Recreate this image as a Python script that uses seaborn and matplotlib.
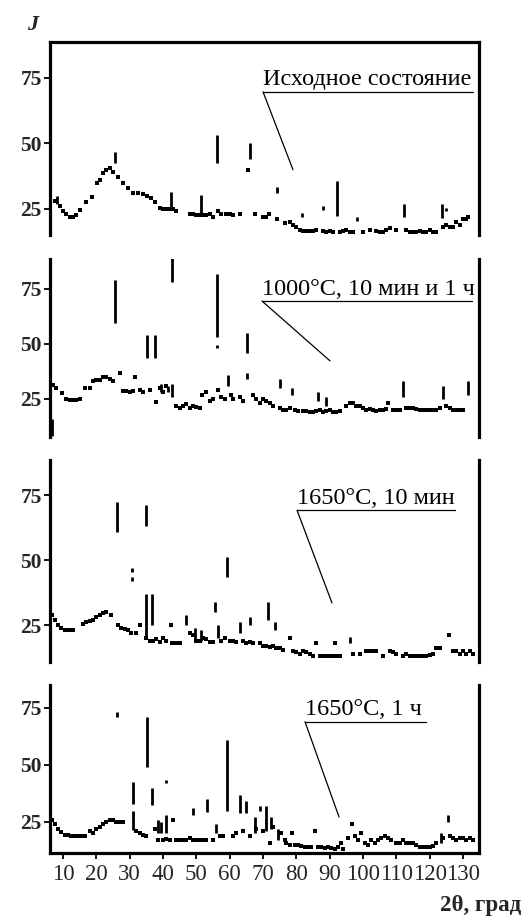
import matplotlib
matplotlib.use("Agg")
import matplotlib.pyplot as plt
import seaborn as sns
import pandas as pd

# ---------------- data ----------------
x_ticks = [10, 20, 30, 40, 50, 60, 70, 80, 90, 100, 110, 120, 130]
y_ticks = [25, 50, 75]
labels = ["Исходное состояние", "1000°C, 10 мин и 1 ч", "1650°C, 10 мин", "1650°C, 1 ч"]

# background points (2theta, J) and peak segments (2theta, J_low, J_high)
p1_bg = [(7.5, 28), (9, 26), (10, 24), (11, 23), (12, 22), (13, 22), (14, 22.5), (15, 24.5), (17, 27.5),
         (18.7, 29.6), (20.2, 35), (21, 36), (22, 38.7), (23, 40), (24, 40.6), (25, 39), (26.5, 37), (28, 35),
         (29.5, 33), (31, 31), (32.5, 31), (34, 30.5), (35.2, 30), (36.5, 29), (37.6, 27.7), (39, 25.5),
         (40, 25), (41, 25), (42, 25), (43, 25), (44, 24), (48, 23), (49, 23), (50, 22.6), (51, 22.5),
         (52, 22.8), (53, 22.6), (54, 23), (55, 22), (56.5, 24), (57.5, 23), (59, 23), (60, 23), (61, 22.5),
         (63, 23), (65.5, 40), (67.7, 23), (70, 22), (71, 22), (71.9, 23), (74.3, 21), (76.7, 19.5), (78, 20),
         (79, 19), (80, 18), (81, 17), (82, 16.5), (83, 16.5), (84, 16.5), (85, 16.5), (86, 17), (88, 16.5),
         (89, 16), (90, 16.5), (91, 16), (93, 16), (94, 16.5), (95, 17), (96, 16), (97, 16), (100, 16),
         (102, 17), (104, 16.5), (105, 16), (106, 16), (107, 17), (108, 17.5), (110, 17), (113, 17), (114, 16),
         (115, 16), (116, 16), (117, 16.5), (118, 16), (119, 16), (120, 17), (121, 16), (122, 16), (124, 18),
         (125, 19), (126, 18), (127, 18), (128, 20), (129, 19), (130, 21), (131, 21), (131.6, 22)]
p1_pk = [(8.2, 27, 30), (25.6, 42.6, 46.7), (42.4, 25, 31.5), (51.4, 23, 30.3), (56.3, 42.6, 53.2),
         (66.0, 44, 50), (74.3, 31, 33.5), (81.8, 22, 23.5), (88, 24.5, 26), (92.3, 22.3, 35.6),
         (98.3, 20.5, 22), (112.4, 22, 27), (123.8, 21.5, 27), (125, 24, 25.5)]

p2_bg = [(7, 31.4), (8, 30), (9.7, 27.7), (11, 25), (12, 24.5), (13, 24.5), (14, 24.5), (15, 25), (16.6, 30),
         (18, 30), (19, 33), (20, 33.6), (21, 33.6), (22, 35), (23, 35), (24, 34), (25, 33), (27, 37),
         (28, 28.5), (29, 28.5), (30, 28), (31, 28.5), (31.5, 35), (33, 29), (34, 28), (36, 29), (38, 23.6),
         (39, 30), (40, 28), (41, 31), (44, 22), (45, 21), (46, 22), (47, 22.5), (48, 21), (49, 22),
         (50, 21.5), (51, 21), (51.7, 27), (53, 28), (54, 24), (55, 25), (56.5, 29), (57.5, 26), (58.5, 25),
         (60.5, 27), (61, 25), (63, 26), (64, 24), (67, 27), (68, 25), (69, 23), (70, 25), (71, 24), (72, 23),
         (73, 22), (75, 21), (76, 20), (77, 20), (78, 21), (79.5, 20), (80.5, 19.5), (82, 19.5), (83, 19.5),
         (84, 19), (85, 19), (86, 19.5), (87, 20), (88, 19), (89, 19.5), (90, 20), (91, 19), (92, 19),
         (93, 19.5), (95, 22), (96, 23), (97, 23), (98, 22), (99, 22), (100, 21), (101, 20), (102, 20.5),
         (103, 20), (104, 19.5), (105, 20), (106, 20), (107, 20.5), (107.6, 23), (109, 20), (110, 20),
         (111, 20), (113, 21), (114, 21), (115, 21), (116, 20.5), (117, 20), (118, 20), (119, 20), (120, 20),
         (121, 20), (122, 20), (123, 21), (125, 22), (126, 21), (127, 20), (128, 20), (129, 20), (130, 20)]
p2_pk = [(6.6, 8, 16), (25.6, 59.5, 79), (35.2, 43.6, 54), (37.6, 43.6, 54), (39.5, 28, 32), (41.5, 28, 31),
         (42.7, 26, 32), (42.7, 78, 95), (56.2, 53, 82), (56.2, 48, 49.5), (59.6, 31, 36), (65.2, 46, 55),
         (65.2, 34, 37), (75, 30, 34), (78.8, 27, 30), (86.6, 24, 28), (88.8, 22, 26), (112, 26, 33),
         (124, 25, 31), (131.6, 27, 33)]

p3_bg = [(6.7, 29), (7.5, 27), (8.5, 25), (9.5, 24), (10.5, 23), (11.5, 23), (12.5, 23), (13, 23), (16, 25.5),
         (17, 26), (18, 26.5), (19, 27), (20, 28), (21, 29), (22, 29.5), (23, 30), (24.5, 29), (26.5, 25),
         (27.5, 24), (28.5, 23.5), (29.5, 23), (30.5, 22), (32, 22), (33, 25), (35, 20), (36, 19), (37, 19),
         (38, 19.5), (39, 18.5), (40, 20), (41, 19), (42.5, 25), (42.7, 18), (43.5, 18), (44.5, 18), (45, 18),
         (48, 22), (49, 21), (50, 19), (51, 19), (52, 20), (53, 19.5), (54, 18.5), (55, 18.5), (57.5, 19),
         (58.5, 20), (60, 19), (61, 19), (62, 18.5), (64, 19), (65, 18), (66, 18.5), (67, 18), (69, 18),
         (70, 17), (71, 17), (72, 16.5), (73, 17), (74, 16), (75, 16), (76, 15.5), (78, 20), (79, 15),
         (80, 14.5), (81, 14), (82, 15), (83, 14.5), (84, 14), (85, 13), (86, 18), (87, 13), (88, 13), (89, 13),
         (90, 13), (91, 13), (91.7, 18), (92, 13), (93, 13), (97, 14), (99, 14), (101, 15), (102, 15),
         (103, 15), (104, 15), (106, 13), (108, 15), (109, 14.5), (110, 14), (112, 13), (113, 14), (114, 13),
         (115, 13), (116, 13), (117, 13), (118, 13), (119, 13), (120, 13.5), (121, 14), (122, 16), (123, 16),
         (125.7, 21), (127, 15), (128, 15), (129, 14), (130, 15), (131, 14), (132, 15), (133, 14)]
p3_pk = [(26.2, 60.7, 72.3), (30.7, 42, 43.5), (30.7, 45.5, 47), (34.9, 63, 71), (34.9, 20, 37),
         (36.7, 25, 37), (47, 25, 29), (49.5, 19, 24), (51.5, 19, 23), (55.6, 30, 34), (56.5, 20, 25),
         (59.2, 43.5, 51), (63, 22, 26), (66, 25, 28), (71.6, 27, 34), (73.7, 23, 26), (96, 18, 20.5)]

p4_bg = [(6.7, 26), (7.6, 24), (8.5, 22), (9.5, 20.5), (10.5, 19.5), (11.5, 19.5), (12.5, 19), (13.5, 19),
         (14.5, 19), (15.5, 19), (16.5, 19), (18, 21), (19, 20), (20, 22), (21, 23), (22, 24), (23, 25),
         (24, 26), (25, 26), (26, 25), (27, 25), (28, 25), (32, 21), (33, 20), (34, 19.5), (35, 19),
         (37.6, 22), (38.5, 17), (40, 17), (41, 17.5), (42, 17), (43, 26), (44, 17), (45, 17), (46, 17),
         (47, 17), (48, 18), (49, 17), (50, 17), (51, 17), (52, 17), (53, 17), (55, 17), (57, 19), (58, 19),
         (61, 19), (62, 20), (64, 21), (66, 19), (68, 22), (70, 21), (72, 16), (73, 23), (75.5, 20), (76.5, 17),
         (77, 16), (78, 15), (78.8, 20), (79.5, 15), (80.5, 15), (81.5, 14.5), (82.5, 14), (83.5, 14),
         (84.5, 14), (85.6, 21), (86.5, 14), (87.5, 14), (88.5, 13.5), (89.5, 14), (90.5, 13.5), (91.5, 13),
         (92.5, 14), (93.5, 16), (94, 13), (95.5, 18), (96.8, 24), (97.5, 19), (98.5, 17), (99.5, 20),
         (100.5, 16), (101.5, 15), (102.5, 17), (103.5, 16), (104.5, 17), (105.5, 18), (106.5, 19),
         (107.5, 18), (108.5, 17), (110, 16), (111, 16), (112, 17), (113, 16), (114, 16), (115, 16), (116, 15),
         (117, 14), (118, 14), (119, 14), (120, 14), (121, 14.5), (122, 16), (124, 18), (126, 19), (127, 18),
         (128, 17), (129, 18), (130, 18), (131, 17), (132, 18), (133, 17)]
p4_pk = [(26.2, 71, 73), (31, 21.5, 30), (31, 33, 42.5), (35.2, 49, 71), (36.7, 32.5, 40), (38.5, 20, 26),
         (39.5, 20, 25), (41, 20, 28), (41, 42, 43.5), (49, 28, 31), (53.2, 29.5, 35), (56, 20, 24),
         (59.2, 30, 61), (63, 29, 37), (65, 29, 34), (67.5, 20, 27), (69, 30, 32), (71, 21, 32),
         (72.5, 22, 27), (74.6, 17, 22), (123.5, 16, 20), (125.5, 25, 28)]

# ---------------- layout ----------------
sns.set_theme(style="white")
plt.rcParams['font.family'] = ['Liberation Serif', 'DejaVu Serif']

W, H = 523, 916
fig = plt.figure(figsize=(W / 100, H / 100), dpi=100)

panels = [
    dict(bg=p1_bg, pk=p1_pk, top=42, bot=235, ylim=(15, 88.7), ann=(70.0, 69.7, 133.0, 79.0, 39.9)),
    dict(bg=p2_bg, pk=p2_pk, top=259, bot=437, ylim=(7.7, 88.6), ann=(69.7, 69.5, 132.7, 90.1, 42.3)),
    dict(bg=p3_bg, pk=p3_pk, top=460, bot=662, ylim=(10.8, 88.5), ann=(80.2, 69.2, 127.6, 90.7, 33.5)),
    dict(bg=p4_bg, pk=p4_pk, top=685, bot=853, ylim=(11.4, 85), ann=(82.6, 68.9, 118.9, 92.8, 27.2)),
]

left_px, right_px = 50, 479
for i, p in enumerate(panels):
    ax = fig.add_axes([left_px / W, 1 - p['bot'] / H, (right_px - left_px) / W, (p['bot'] - p['top']) / H])
    df = pd.DataFrame(p['bg'], columns=['x', 'y'])
    sns.scatterplot(data=df, x='x', y='y', ax=ax, marker='s', s=7, color='black', linewidth=0)
    pk = pd.DataFrame(p['pk'], columns=['x', 'lo', 'hi'])
    ax.vlines(pk['x'], pk['lo'], pk['hi'], colors='black', linewidth=2.0)
    ax.set_xlim(6.1, 134.8)
    ax.set_ylim(*p['ylim'])
    ax.set_xlabel('')
    ax.set_ylabel('')
    ax.set_facecolor('white')
    for s in ax.spines.values():
        s.set_color('black')
        s.set_linewidth(2.3)
    ax.spines['top'].set_visible(i == 0)
    ax.spines['bottom'].set_visible(i == 3)
    ax.set_yticks(y_ticks)
    ax.tick_params(axis='y', direction='out', length=4, width=1.3, color='black', labelsize=15.5, pad=2,
                   left=True)
    for t in ax.get_yticklabels():
        t.set_fontweight('bold')
    if i == 3:
        ax.set_xticks(x_ticks)
        ax.tick_params(axis='x', direction='out', length=4, width=1.3, color='black', labelsize=16.5, pad=4,
                       bottom=True)
    else:
        ax.set_xticks([])
    x0, yu, x1, xe, ye = p['ann']
    ax.plot([x0, x1], [yu, yu], color='black', linewidth=0.9, clip_on=False)
    ax.plot([x0, xe], [yu, ye], color='black', linewidth=0.9, clip_on=False)
    ax.annotate(labels[i], xy=(x0, yu), xytext=(0, 1.0), textcoords='offset points', ha='left', va='bottom',
                fontsize=17.5, color='black')

fig.text(33 / W, 1 - 25 / H, 'J', fontsize=16, fontweight='bold', fontstyle='italic', ha='center', va='center')
fig.text(521 / W, 1 - 905 / H, '2θ, град', fontsize=16.5, fontweight='bold', ha='right', va='center')

fig.savefig('out.png', dpi=100, facecolor='white')
